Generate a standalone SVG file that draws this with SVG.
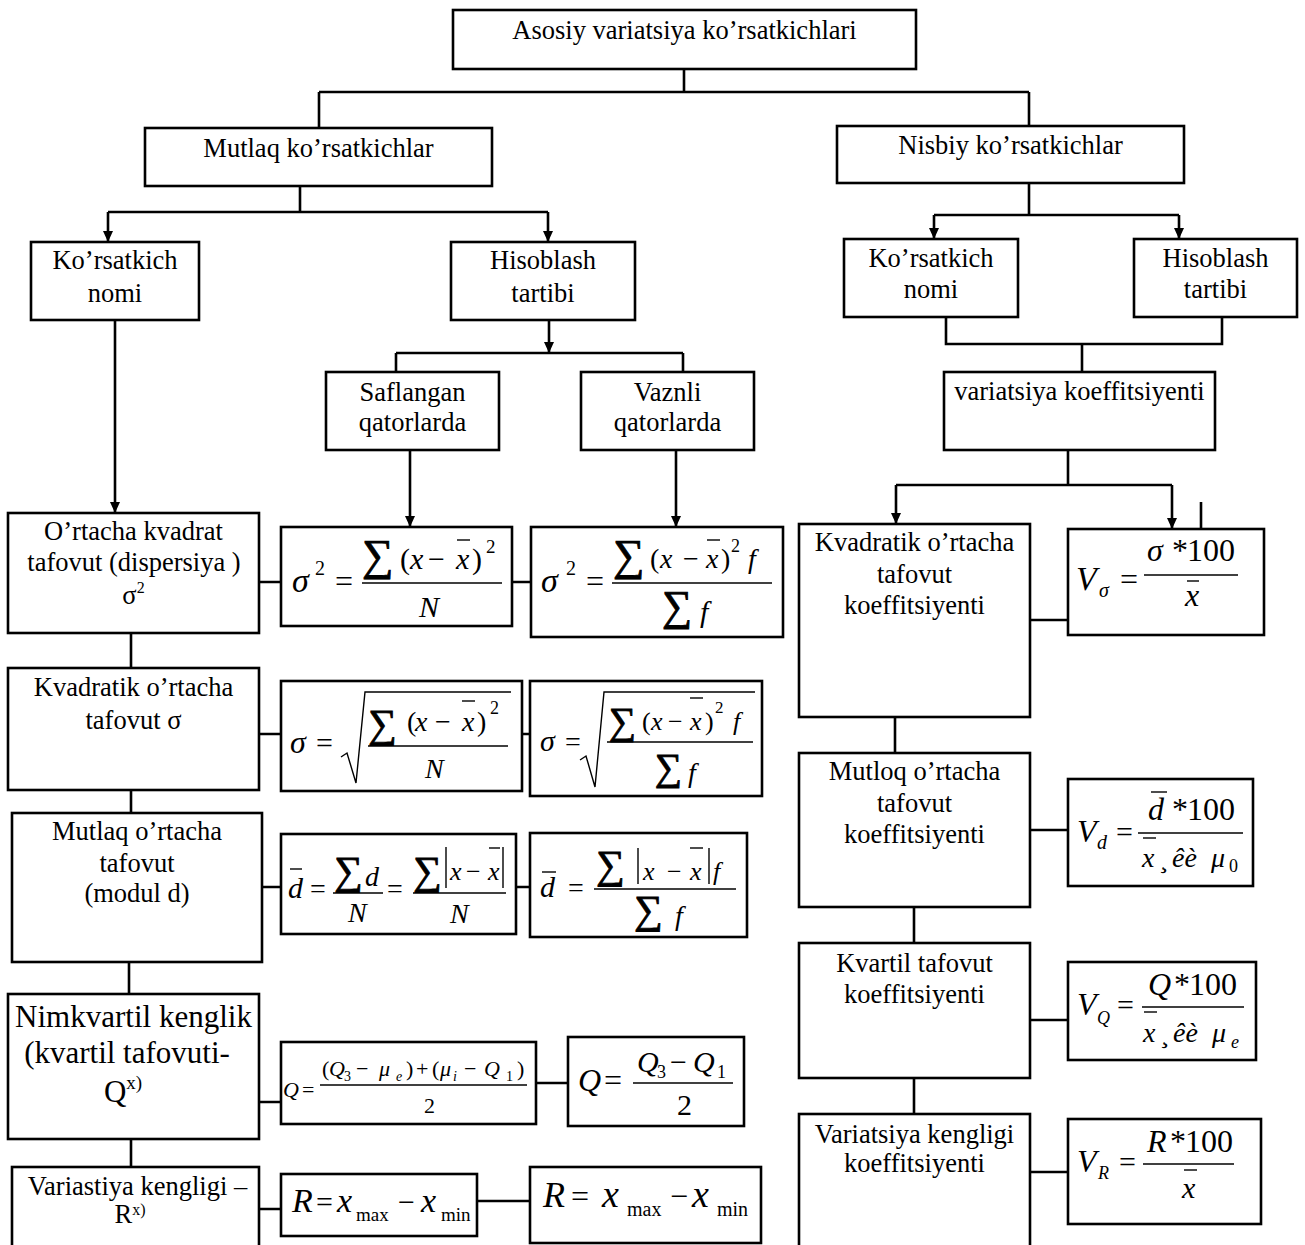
<svg xmlns="http://www.w3.org/2000/svg" width="1305" height="1245" viewBox="0 0 1305 1245">
<style>
.b{fill:#fff;stroke:#000;stroke-width:2.6}
.c{fill:none;stroke:#000;stroke-width:2.6}
.t{font-family:"Liberation Serif","Times New Roman",serif;font-size:26.5px;text-anchor:middle;fill:#000}
.big{font-size:31px}
.m{font-family:"Liberation Serif","Times New Roman",serif;fill:#000}
.i{font-style:italic}
.s{stroke:#000;stroke-width:0.9}
.fb{stroke:#000;stroke-width:1.4;fill:none}
</style>
<defs>
<marker id="ah" markerUnits="userSpaceOnUse" markerWidth="11" markerHeight="10" refX="11" refY="5" orient="auto"><path d="M0,0 L11,5 L0,10 z" fill="#000"/></marker>
</defs>
<rect x="0" y="0" width="1305" height="1245" fill="#fff"/>

<g id="connectors" class="c">
<path d="M684,69 V92 M319,92 H1029 M319,92 V128 M1029,92 V126"/>
<path d="M300,186 V212 M108,212 H548"/>
<path d="M108,212 V242" marker-end="url(#ah)"/>
<path d="M548,212 V242" marker-end="url(#ah)"/>
<path d="M1029,183 V215 M934,215 H1179"/>
<path d="M934,215 V239" marker-end="url(#ah)"/>
<path d="M1179,215 V239" marker-end="url(#ah)"/>
<path d="M946,317 V344 H1222 V317 M1082,344 V372"/>
<path d="M1068,450 V485 M896,485 H1172"/>
<path d="M896,485 V524" marker-end="url(#ah)"/>
<path d="M1172,485 V529" marker-end="url(#ah)"/>
<path d="M1201,502 V529"/>
<path d="M1030,620 H1068 M895,717 V753 M1030,830 H1068 M914,907 V943 M1030,1020 H1068 M914,1078 V1114 M1030,1172 H1068"/>
<path d="M115,320 V513" marker-end="url(#ah)"/>
<path d="M549,320 V353" marker-end="url(#ah)"/>
<path d="M396,353 H683 M396,353 V372 M683,353 V372"/>
<path d="M410,450 V527" marker-end="url(#ah)"/>
<path d="M676,450 V527" marker-end="url(#ah)"/>
<path d="M259,582 H281 M512,582 H531 M131,633 V668 M259,734 H281 M522,734 H530 M131,790 V813 M262,887 H281 M516,887 H530 M129,962 V994 M259,1102 H281 M536,1083 H568 M131,1139 V1167 M259,1209 H281 M477,1201 H530"/>
</g>

<g id="n-root"><rect class="b" x="453" y="10" width="463" height="59"/><text class="t" x="684.5" y="39">Asosiy variatsiya ko’rsatkichlari</text></g>
<g id="n-mutlaq"><rect class="b" x="145" y="128" width="347" height="58"/><text class="t" x="318.5" y="157">Mutlaq ko’rsatkichlar</text></g>
<g id="n-nisbiy"><rect class="b" x="837" y="126" width="347" height="57"/><text class="t" x="1010.5" y="154">Nisbiy ko’rsatkichlar</text></g>
<g id="n-kn-left"><rect class="b" x="31" y="242" width="168" height="78"/><text class="t" x="115" y="269">Ko’rsatkich</text><text class="t" x="115" y="302">nomi</text></g>
<g id="n-ht-left"><rect class="b" x="451" y="242" width="184" height="78"/><text class="t" x="543" y="269">Hisoblash</text><text class="t" x="543" y="302">tartibi</text></g>
<g id="n-kn-right"><rect class="b" x="844" y="239" width="174" height="78"/><text class="t" x="931" y="267">Ko’rsatkich</text><text class="t" x="931" y="298">nomi</text></g>
<g id="n-ht-right"><rect class="b" x="1134" y="239" width="163" height="78"/><text class="t" x="1215.5" y="267">Hisoblash</text><text class="t" x="1215.5" y="298">tartibi</text></g>
<g id="n-saflangan"><rect class="b" x="326" y="372" width="173" height="78"/><text class="t" x="412.5" y="401">Saflangan</text><text class="t" x="412.5" y="431">qatorlarda</text></g>
<g id="n-vaznli"><rect class="b" x="581" y="372" width="173" height="78"/><text class="t" x="667.5" y="401">Vaznli</text><text class="t" x="667.5" y="431">qatorlarda</text></g>
<g id="n-varkoef"><rect class="b" x="944" y="372" width="271" height="78"/><text class="t" x="1079.5" y="400">variatsiya koeffitsiyenti</text></g>

<g id="n-dispersiya"><rect class="b" x="8" y="513" width="251" height="120"/><text class="t" x="133.5" y="540">O’rtacha kvadrat</text><text class="t" x="134" y="571">tafovut (dispersiya )</text><text class="t" x="133.5" y="604">σ<tspan font-size="16" dy="-11">2</tspan></text></g>
<g id="n-kvadratik"><rect class="b" x="8" y="668" width="251" height="122"/><text class="t" x="133.5" y="696">Kvadratik o’rtacha</text><text class="t" x="133.5" y="729">tafovut σ</text></g>
<g id="n-mutlaq-ortacha"><rect class="b" x="12" y="813" width="250" height="149"/><text class="t" x="137" y="840">Mutlaq o’rtacha</text><text class="t" x="137" y="872">tafovut</text><text class="t" x="137" y="902">(modul d)</text></g>
<g id="n-nimkvartil"><rect class="b" x="8" y="994" width="251" height="145"/><text class="t big" x="133.5" y="1027">Nimkvartil kenglik</text><text class="t big" x="127" y="1063">(kvartil tafovuti-</text><text class="t big" x="123" y="1102">Q<tspan font-size="19" dy="-13">x)</tspan></text></g>
<g id="n-variastiya"><rect class="b" x="12" y="1167" width="247" height="100"/><text class="t" x="137.5" y="1195">Variastiya kengligi –</text><text class="t" x="130" y="1223">R<tspan font-size="16" dy="-8">x)</tspan></text></g>

<g id="n-kv-koef"><rect class="b" x="799" y="524" width="231" height="193"/><text class="t" x="914.5" y="551">Kvadratik o’rtacha</text><text class="t" x="914.5" y="583">tafovut</text><text class="t" x="914.5" y="614">koeffitsiyenti</text></g>
<g id="n-mutloq-koef"><rect class="b" x="799" y="753" width="231" height="154"/><text class="t" x="914.5" y="780">Mutloq o’rtacha</text><text class="t" x="914.5" y="812">tafovut</text><text class="t" x="914.5" y="843">koeffitsiyenti</text></g>
<g id="n-kvartil-koef"><rect class="b" x="799" y="943" width="231" height="135"/><text class="t" x="914.5" y="972">Kvartil tafovut</text><text class="t" x="914.5" y="1003">koeffitsiyenti</text></g>
<g id="n-varkeng-koef"><rect class="b" x="799" y="1114" width="231" height="150"/><text class="t" x="914.5" y="1143">Variatsiya kengligi</text><text class="t" x="914.5" y="1172">koeffitsiyenti</text></g>

<g id="f-disp-s">
<rect class="b" x="281" y="527" width="231" height="99"/>
<text class="m i" x="292" y="592" font-size="34">σ</text>
<text class="m" x="315" y="575" font-size="20">2</text>
<text class="m" x="335" y="592" font-size="32">=</text>
<text class="m s" x="362" y="570" font-size="44">∑</text>
<text class="m" y="569" font-size="30"><tspan x="400">(</tspan><tspan class="i" x="410">x</tspan><tspan x="428">−</tspan><tspan class="i" x="456">x</tspan><tspan x="472">)</tspan></text>
<text class="m" x="486" y="553" font-size="19">2</text>
<line class="fb" x1="457" y1="540" x2="470" y2="540"/>
<line class="fb" x1="362" y1="583" x2="502" y2="583"/>
<text class="m i" x="419" y="617" font-size="30">N</text>
</g>
<g id="f-disp-w">
<rect class="b" x="531" y="527" width="252" height="110"/>
<text class="m i" x="541" y="592" font-size="34">σ</text>
<text class="m" x="566" y="575" font-size="20">2</text>
<text class="m" x="586" y="592" font-size="32">=</text>
<text class="m s" x="613" y="570" font-size="44">∑</text>
<text class="m" y="568" font-size="28"><tspan x="650">(</tspan><tspan class="i" x="660">x</tspan><tspan x="683">−</tspan><tspan class="i" x="706">x</tspan><tspan x="721">)</tspan></text>
<text class="m" x="731" y="552" font-size="18">2</text>
<text class="m i" x="748" y="568" font-size="28">f</text>
<line class="fb" x1="707" y1="540" x2="720" y2="540"/>
<line class="fb" x1="612" y1="583" x2="772" y2="583"/>
<text class="m s" x="662" y="620" font-size="42">∑</text>
<text class="m i" x="700" y="622" font-size="30">f</text>
</g>
<g id="f-sigma-s">
<rect class="b" x="281" y="681" width="241" height="110"/>
<text class="m i" x="290" y="753" font-size="32">σ</text>
<text class="m" x="316" y="753" font-size="30">=</text>
<path class="fb" d="M341,757 L347,753 L356,783 L365,692 H511"/>
<line class="fb" x1="368" y1="746" x2="508" y2="746"/>
<text class="m s" x="368" y="737" font-size="40">∑</text>
<text class="m" y="731" font-size="28"><tspan x="407">(</tspan><tspan class="i" x="415">x</tspan><tspan x="435">−</tspan><tspan class="i" x="462">x</tspan><tspan x="477">)</tspan></text>
<text class="m" x="490" y="714" font-size="18">2</text>
<line class="fb" x1="462" y1="701" x2="475" y2="701"/>
<text class="m i" x="425" y="778" font-size="28">N</text>
</g>
<g id="f-sigma-w">
<rect class="b" x="530" y="681" width="232" height="115"/>
<text class="m i" x="540" y="751" font-size="30">σ</text>
<text class="m" x="565" y="751" font-size="28">=</text>
<path class="fb" d="M580,760 L586,756 L595,787 L604,692 H755"/>
<line class="fb" x1="607" y1="742" x2="753" y2="742"/>
<text class="m s" x="609" y="734" font-size="38">∑</text>
<text class="m" y="730" font-size="26"><tspan x="642">(</tspan><tspan class="i" x="651">x</tspan><tspan x="668">−</tspan><tspan class="i" x="690">x</tspan><tspan x="705">)</tspan></text>
<text class="m" x="715" y="713" font-size="17">2</text>
<text class="m i" x="733" y="730" font-size="26">f</text>
<line class="fb" x1="690" y1="698" x2="703" y2="698"/>
<text class="m s" x="655" y="780" font-size="38">∑</text>
<text class="m i" x="688" y="782" font-size="28">f</text>
</g>
<g id="f-d-s">
<rect class="b" x="281" y="834" width="235" height="100"/>
<text class="m i" x="288" y="898" font-size="30">d</text>
<line class="fb" x1="290" y1="869" x2="302" y2="869"/>
<text class="m" x="310" y="898" font-size="28">=</text>
<line class="fb" x1="333" y1="893" x2="383" y2="893"/>
<text class="m s" x="334" y="884" font-size="40">∑</text>
<text class="m i" x="365" y="886" font-size="28">d</text>
<text class="m i" x="348" y="922" font-size="28">N</text>
<text class="m" x="387" y="898" font-size="28">=</text>
<line class="fb" x1="413" y1="893" x2="506" y2="893"/>
<text class="m s" x="413" y="884" font-size="40">∑</text>
<line class="fb" x1="446" y1="847" x2="446" y2="888"/>
<text class="m" y="880" font-size="26"><tspan class="i" x="450">x</tspan><tspan x="466">−</tspan><tspan class="i" x="488">x</tspan></text>
<line class="fb" x1="489" y1="848" x2="500" y2="848"/>
<line class="fb" x1="503" y1="847" x2="503" y2="888"/>
<text class="m i" x="450" y="923" font-size="28">N</text>
</g>
<g id="f-d-w">
<rect class="b" x="530" y="833" width="217" height="104"/>
<text class="m i" x="540" y="897" font-size="30">d</text>
<line class="fb" x1="542" y1="872" x2="556" y2="872"/>
<text class="m" x="568" y="897" font-size="28">=</text>
<line class="fb" x1="594" y1="889" x2="736" y2="889"/>
<text class="m s" x="596" y="878" font-size="40">∑</text>
<line class="fb" x1="638" y1="848" x2="638" y2="884"/>
<text class="m" y="880" font-size="26"><tspan class="i" x="643">x</tspan><tspan x="667">−</tspan><tspan class="i" x="690">x</tspan></text>
<line class="fb" x1="690" y1="848" x2="703" y2="848"/>
<line class="fb" x1="709" y1="848" x2="709" y2="884"/>
<text class="m i" x="713" y="880" font-size="26">f</text>
<text class="m s" x="634" y="923" font-size="40">∑</text>
<text class="m i" x="675" y="925" font-size="28">f</text>
</g>
<g id="f-q-long">
<rect class="b" x="281" y="1042" width="255" height="82"/>
<text class="m i" x="283" y="1097" font-size="22">Q</text>
<text class="m" x="302" y="1097" font-size="22">=</text>
<line class="fb" x1="320" y1="1085" x2="527" y2="1085"/>
<text class="m" y="1076" font-size="22"><tspan x="322">(</tspan><tspan class="i" x="329">Q</tspan><tspan x="356">−</tspan><tspan class="i" x="379">μ</tspan><tspan x="406">)</tspan><tspan x="416">+</tspan><tspan x="432">(</tspan><tspan class="i" x="440">μ</tspan><tspan x="464">−</tspan><tspan class="i" x="484">Q</tspan><tspan x="517">)</tspan></text>
<text class="m" y="1081" font-size="14"><tspan x="344">3</tspan><tspan class="i" x="396">e</tspan><tspan class="i" x="453">i</tspan><tspan x="506">1</tspan></text>
<text class="m" x="424" y="1113" font-size="22">2</text>
</g>
<g id="f-q-short">
<rect class="b" x="568" y="1037" width="176" height="89"/>
<text class="m i" x="578" y="1091" font-size="32">Q</text>
<text class="m" x="604" y="1091" font-size="32">=</text>
<line class="fb" x1="633" y1="1083" x2="733" y2="1083"/>
<text class="m" y="1072" font-size="30"><tspan class="i" x="637">Q</tspan><tspan x="670">−</tspan><tspan class="i" x="693">Q</tspan></text>
<text class="m" y="1078" font-size="18"><tspan x="657">3</tspan><tspan x="717">1</tspan></text>
<text class="m" x="677" y="1115" font-size="30">2</text>
</g>
<g id="f-r-1">
<rect class="b" x="281" y="1174" width="196" height="62"/>
<text class="m i" x="292" y="1212" font-size="34">R</text>
<text class="m" x="316" y="1212" font-size="30">=</text>
<text class="m i" x="337" y="1212" font-size="34">x</text>
<text class="m" x="356" y="1221" font-size="19">max</text>
<text class="m" x="398" y="1212" font-size="30">−</text>
<text class="m i" x="421" y="1212" font-size="34">x</text>
<text class="m" x="441" y="1221" font-size="19">min</text>
</g>
<g id="f-r-2">
<rect class="b" x="530" y="1167" width="231" height="76"/>
<text class="m i" x="543" y="1207" font-size="36">R</text>
<text class="m" x="571" y="1207" font-size="32">=</text>
<text class="m i" x="602" y="1207" font-size="38">x</text>
<text class="m" x="627" y="1216" font-size="20">max</text>
<text class="m" x="670" y="1207" font-size="32">−</text>
<text class="m i" x="692" y="1207" font-size="38">x</text>
<text class="m" x="717" y="1216" font-size="20">min</text>
</g>

<g id="f-vsigma">
<rect class="b" x="1068" y="529" width="196" height="106"/>
<text class="m i" x="1076" y="590" font-size="34">V</text>
<text class="m i" x="1099" y="597" font-size="20">σ</text>
<text class="m" x="1120" y="590" font-size="32">=</text>
<line class="fb" x1="1144" y1="575" x2="1238" y2="575"/>
<text class="m" y="561" font-size="32"><tspan class="i" x="1147">σ</tspan><tspan x="1172">*</tspan><tspan x="1187">100</tspan></text>
<text class="m i" x="1185" y="606" font-size="32">x</text>
<line class="fb" x1="1187" y1="581" x2="1199" y2="581"/>
</g>
<g id="f-vd">
<rect class="b" x="1068" y="779" width="185" height="107"/>
<text class="m i" x="1077" y="842" font-size="32">V</text>
<text class="m i" x="1097" y="849" font-size="20">d</text>
<text class="m" x="1116" y="842" font-size="30">=</text>
<line class="fb" x1="1138" y1="833" x2="1243" y2="833"/>
<text class="m" y="820" font-size="32"><tspan class="i" x="1148">d</tspan><tspan x="1172">*</tspan><tspan x="1187">100</tspan></text>
<line class="fb" x1="1151" y1="792" x2="1167" y2="792"/>
<text class="m" y="867" font-size="28"><tspan class="i" x="1142">x</tspan><tspan x="1159">¸</tspan><tspan class="i" x="1172">êè</tspan><tspan class="i" x="1211">μ</tspan></text>
<line class="fb" x1="1143" y1="838" x2="1156" y2="838"/>
<text class="m" x="1229" y="872" font-size="18">0</text>
</g>
<g id="f-vq">
<rect class="b" x="1068" y="962" width="188" height="98"/>
<text class="m i" x="1077" y="1015" font-size="32">V</text>
<text class="m i" x="1097" y="1024" font-size="18">Q</text>
<text class="m" x="1117" y="1015" font-size="30">=</text>
<line class="fb" x1="1142" y1="1007" x2="1244" y2="1007"/>
<text class="m" y="995" font-size="32"><tspan class="i" x="1148">Q</tspan><tspan x="1174">*</tspan><tspan x="1189">100</tspan></text>
<text class="m" y="1042" font-size="28"><tspan class="i" x="1143">x</tspan><tspan x="1160">¸</tspan><tspan class="i" x="1173">êè</tspan><tspan class="i" x="1212">μ</tspan></text>
<line class="fb" x1="1144" y1="1012" x2="1157" y2="1012"/>
<text class="m i" x="1231" y="1048" font-size="18">e</text>
</g>
<g id="f-vr">
<rect class="b" x="1068" y="1119" width="193" height="105"/>
<text class="m i" x="1077" y="1172" font-size="32">V</text>
<text class="m i" x="1098" y="1179" font-size="18">R</text>
<text class="m" x="1119" y="1172" font-size="30">=</text>
<line class="fb" x1="1143" y1="1164" x2="1234" y2="1164"/>
<text class="m" y="1152" font-size="32"><tspan class="i" x="1147">R</tspan><tspan x="1170">*</tspan><tspan x="1185">100</tspan></text>
<text class="m i" x="1182" y="1198" font-size="30">x</text>
<line class="fb" x1="1184" y1="1170" x2="1197" y2="1170"/>
</g>
</svg>
